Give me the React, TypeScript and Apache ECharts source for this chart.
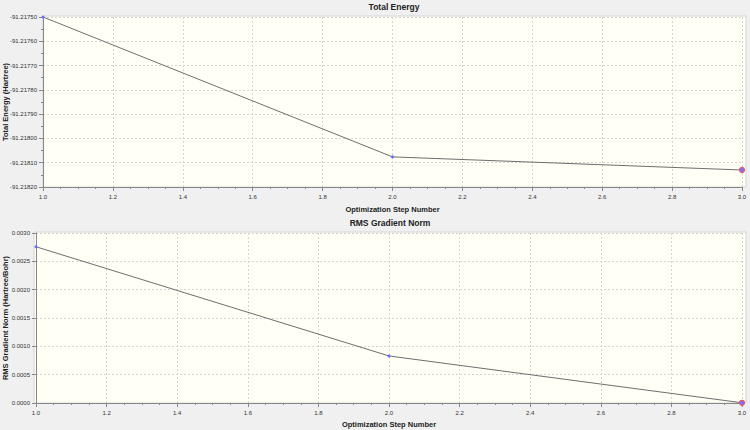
import React, { useEffect, useRef } from "react";
import * as echarts from "echarts";

const steps = [1, 2, 3];
const totalEnergy = [-91.2175, -91.218076, -91.21813];
const rmsGradient = [0.002757, 0.00083, 0.000004];
const titles = ["Total Energy", "RMS Gradient Norm"];
const yNames = ["Total Energy (Hartree)", "RMS Gradient Norm (Hartree/Bohr)"];
const xName = "Optimization Step Number";

const FONT = "Liberation Sans, Arial, sans-serif";

function makeData(vals: number[]) {
  return steps.map((s, i) =>
    i === steps.length - 1
      ? {
          value: [s, vals[i]],
          symbolSize: 5,
          itemStyle: { color: "#7a70ff", borderColor: "#e85a6a", borderWidth: 1.2 },
        }
      : { value: [s, vals[i]] }
  );
}

export default function App() {
  const ref = useRef<HTMLDivElement>(null);
  useEffect(() => {
    if (!ref.current) return;
    const chart = echarts.init(ref.current, null, { renderer: "svg" });
    const xAxisCommon = {
      type: "value",
      min: 1,
      max: 3,
      interval: 0.2,
      name: xName,
      nameLocation: "middle",
      nameMoveOverlap: false,
      nameTextStyle: { fontFamily: FONT, fontSize: 7.5, fontWeight: "bold", color: "#222" },
      axisLine: { show: true, lineStyle: { color: "#888" } },
      axisTick: { show: true, length: 4, lineStyle: { color: "#888" } },
      minorTick: { show: true, splitNumber: 4, length: 2, lineStyle: { color: "#888" } },
      axisLabel: {
        fontFamily: FONT,
        fontSize: 6,
        color: "#333",
        margin: 7,
        formatter: (v: number) => v.toFixed(1),
      },
      splitLine: { show: true, lineStyle: { color: "#d4d4d4", type: [2, 2] } },
    };
    const yLabelCommon = { fontFamily: FONT, fontSize: 6, color: "#333", margin: 6 };
    const titleStyle = { fontFamily: FONT, fontSize: 8.5, fontWeight: "bold", color: "#222" };
    chart.setOption({
      animation: false,
      backgroundColor: "#f0f0f0",
      title: [
        { text: titles[0], left: 394, top: 2, padding: 0, textAlign: "center", textStyle: titleStyle },
        { text: titles[1], left: 390, top: 218, padding: 0, textAlign: "center", textStyle: titleStyle },
      ],
      graphic: [
        {
          type: "rect",
          z: -1,
          silent: true,
          shape: { x: 43, y: 16, width: 703, height: 171 },
          style: { fill: "#fffff5", stroke: "#d6d6d6", lineWidth: 1 },
        },
        {
          type: "rect",
          z: -1,
          silent: true,
          shape: { x: 34, y: 232, width: 712, height: 171 },
          style: { fill: "#fffff5", stroke: "#d6d6d6", lineWidth: 1 },
        },
      ],
      grid: [
        { left: 43, top: 17, width: 699, height: 170, outerBoundsMode: "none", containLabel: false },
        { left: 36, top: 233, width: 706, height: 170, outerBoundsMode: "none", containLabel: false },
      ],
      xAxis: [
        { ...xAxisCommon, gridIndex: 0, nameGap: 18 },
        { ...xAxisCommon, gridIndex: 1, nameGap: 17 },
      ],
      yAxis: [
        {
          type: "value",
          gridIndex: 0,
          min: -91.2182,
          max: -91.2175,
          interval: 0.0001,
          name: yNames[0],
          nameLocation: "middle",
          nameMoveOverlap: false,
          nameGap: 34,
          nameTextStyle: { fontFamily: FONT, fontSize: 7.5, fontWeight: "bold", color: "#222" },
          axisLine: { show: true, lineStyle: { color: "#888" } },
          axisTick: { show: true, length: 4, lineStyle: { color: "#888" } },
          minorTick: { show: true, splitNumber: 2, length: 2, lineStyle: { color: "#888" } },
          axisLabel: { ...yLabelCommon, formatter: (v: number) => v.toFixed(5) },
          splitLine: { show: true, lineStyle: { color: "#d4d4d4", type: [2, 2] } },
        },
        {
          type: "value",
          gridIndex: 1,
          min: 0,
          max: 0.003,
          interval: 0.0005,
          name: yNames[1],
          nameLocation: "middle",
          nameMoveOverlap: false,
          nameGap: 27,
          nameTextStyle: { fontFamily: FONT, fontSize: 7.5, fontWeight: "bold", color: "#222" },
          axisLine: { show: true, lineStyle: { color: "#888" } },
          axisTick: { show: true, length: 4, lineStyle: { color: "#888" } },
          minorTick: { show: false },
          axisLabel: { ...yLabelCommon, formatter: (v: number) => v.toFixed(4) },
          splitLine: { show: true, lineStyle: { color: "#d4d4d4", type: [2, 2] } },
        },
      ],
      series: [
        {
          type: "line",
          xAxisIndex: 0,
          yAxisIndex: 0,
          data: makeData(totalEnergy),
          symbol: "circle",
          symbolSize: 3,
          itemStyle: { color: "#6a6aff" },
          lineStyle: { color: "#6e6e6e", width: 1 },
        },
        {
          type: "line",
          xAxisIndex: 1,
          yAxisIndex: 1,
          data: makeData(rmsGradient),
          symbol: "circle",
          symbolSize: 3,
          itemStyle: { color: "#6a6aff" },
          lineStyle: { color: "#6e6e6e", width: 1 },
        },
      ],
    });
    return () => chart.dispose();
  }, []);
  return (
    <div
      ref={ref}
      style={{ position: "fixed", left: 0, top: 0, width: 750, height: 430 }}
    />
  );
}
